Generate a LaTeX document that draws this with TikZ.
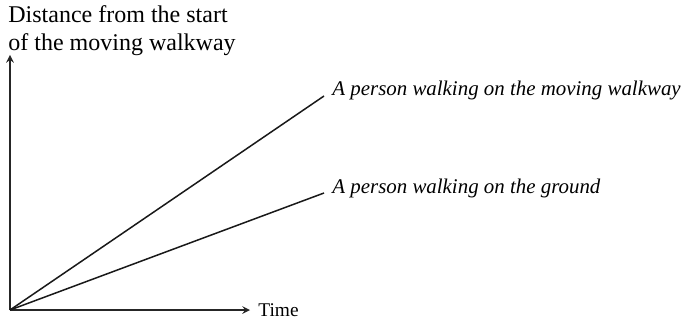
\documentclass[tikz,border=0pt]{standalone}
\usepackage{fontspec}
\setmainfont{Liberation Serif}
\usepackage{tikz}
\usetikzlibrary{positioning}

\begin{document}
\begin{tikzpicture}[x=0.5pt, y=-0.5pt, >=stealth,
axisline/.style={draw=black!85, line width=0.7pt},
graphline/.style={draw=black!90, line width=0.75pt},
axislabel/.style={font=\fontsize{12}{14}\selectfont, inner sep=0pt, align=left},
linelabel/.style={font=\fontsize{10.45}{12}\selectfont\itshape, inner sep=0pt, anchor=base west},
]
\useasboundingbox (0,0) rectangle (683,320);
%Nodes
\coordinate (O)     at (10,310);
\coordinate (Ytop)  at (10,55);
\coordinate (Xend)  at (250,310);
\coordinate (Fast)  at (324,96);
\coordinate (Slow)  at (324,193);
\node[axislabel, anchor=north west] (Distance) at (8,5) {Distance from the start\\of the moving walkway};
\node[axislabel, anchor=west, font=\fontsize{9.7}{12}\selectfont] (Time) [right=4pt of Xend] {Time};
\node[linelabel] (FastLabel) at ([xshift=4pt]Fast) {A person walking on the moving walkway};
\node[linelabel] (SlowLabel) at ([xshift=4pt]Slow) {A person walking on the ground};

%Lines
\draw[axisline, ->] (O) -- (Ytop);
\draw[axisline, ->] (O) -- (Xend);
\draw[graphline] (O) -- (Fast);
\draw[graphline] (O) -- (Slow);
\end{tikzpicture}
\end{document}
